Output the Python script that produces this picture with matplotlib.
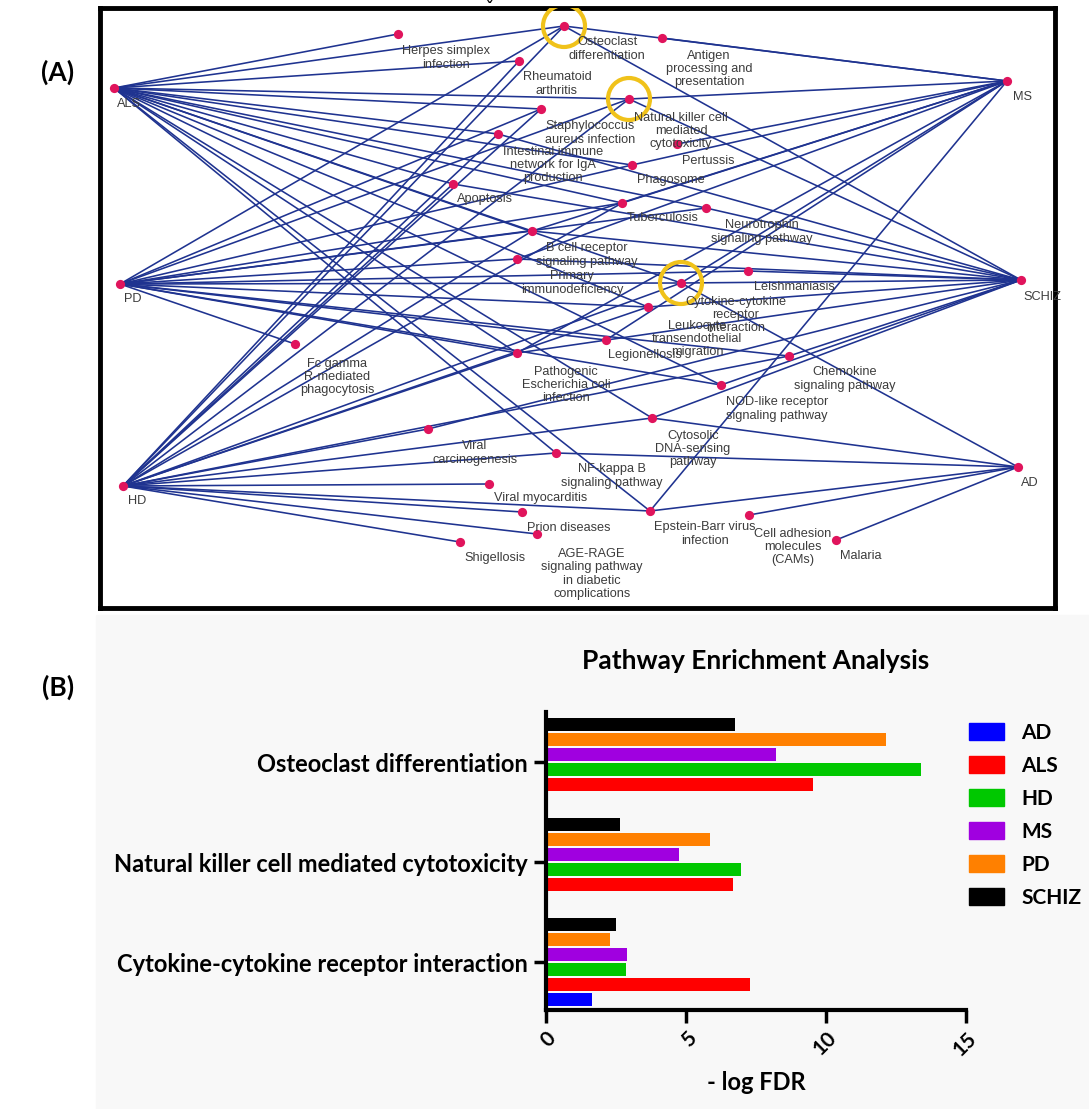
import numpy as np
import matplotlib.pyplot as plt
from matplotlib.patches import Circle, Patch, Rectangle

W, H = 1089, 1109

# ---------------- (B) pathway enrichment, -log FDR ----------------
pathways = ["Cytokine-cytokine receptor interaction",
            "Natural killer cell mediated cytotoxicity",
            "Osteoclast differentiation"]
diseases = ["AD", "ALS", "HD", "MS", "PD", "SCHIZ"]
bar_colors = ["#0000ff", "#ff0000", "#00c800", "#a000e0", "#ff8000", "#000000"]
ad_vals = [1.65, 0.0, 0.0]
als_vals = [7.29, 6.69, 9.52]
hd_vals = [2.84, 6.95, 13.39]
ms_vals = [2.90, 4.74, 8.20]
pd_vals = [2.28, 5.86, 12.16]
schiz_vals = [2.51, 2.66, 6.76]

# ---------------- (A) disease / KEGG pathway network ----------------
# layout of the network drawing (x right, y down)
disease_xy = {"ALS": (114, 88), "MS": (1007, 81), "PD": (120, 284),
              "SCHIZ": (1021, 280), "HD": (123, 486), "AD": (1018, 467)}
disease_label_xy = {"ALS": (129, 104), "MS": (1023, 97), "PD": (133, 299),
                    "SCHIZ": (1042, 297), "HD": (137, 501), "AD": (1030, 483)}

# key, label, node position, label position
pathway_nodes = [
    ("herpes", "Herpes simplex\ninfection", (398, 34), (446, 58)),
    ("osteo", "Osteoclast\ndifferentiation", (564, 26), (607, 49)),
    ("rheum", "Rheumatoid\narthritis", (519, 61), (557, 84)),
    ("antigen", "Antigen\nprocessing and\npresentation", (662, 38), (709, 69)),
    ("staph", "Staphylococcus\naureus infection", (541, 109), (590, 133)),
    ("nk", "Natural killer cell\nmediated\ncytotoxicity", (629, 99), (681, 131)),
    ("iga", "Intestinal immune\nnetwork for IgA\nproduction", (498, 134), (553, 165)),
    ("pertussis", "Pertussis", (677, 144), (708, 161)),
    ("phago", "Phagosome", (632, 165), (671, 180)),
    ("apopt", "Apoptosis", (453, 184), (485, 199)),
    ("tb", "Tuberculosis", (622, 203), (663, 218)),
    ("neuro", "Neurotrophin\nsignaling pathway", (706, 208), (762, 232)),
    ("bcell", "B cell receptor\nsignaling pathway", (532, 231), (587, 255)),
    ("primary", "Primary\nimmunodeficiency", (517, 259), (572, 283)),
    ("leish", "Leishmaniasis", (748, 271), (794, 287)),
    ("cytokine", "Cytokine-cytokine\nreceptor\ninteraction", (681, 283), (736, 315)),
    ("leuko", "Leukocyte\ntransendothelial\nmigration", (648, 307), (697, 339)),
    ("legion", "Legionellosis", (606, 340), (645, 355)),
    ("fcgr", "Fc gamma\nR-mediated\nphagocytosis", (295, 344), (337, 377)),
    ("ecoli", "Pathogenic\nEscherichia coli\ninfection", (517, 353), (566, 385)),
    ("chemo", "Chemokine\nsignaling pathway", (789, 356), (845, 379)),
    ("nod", "NOD-like receptor\nsignaling pathway", (721, 385), (777, 409)),
    ("cytosolic", "Cytosolic\nDNA-sensing\npathway", (652, 418), (693, 449)),
    ("vcarc", "Viral\ncarcinogenesis", (428, 429), (475, 453)),
    ("nfkb", "NF-kappa B\nsignaling pathway", (556, 453), (612, 476)),
    ("vmyo", "Viral myocarditis", (489, 484), (541, 498)),
    ("ebv", "Epstein-Barr virus\ninfection", (650, 511), (705, 534)),
    ("cams", "Cell adhesion\nmolecules\n(CAMs)", (749, 515), (793, 547)),
    ("prion", "Prion diseases", (522, 512), (569, 528)),
    ("malaria", "Malaria", (836, 540), (861, 556)),
    ("shig", "Shigellosis", (460, 542), (495, 558)),
    ("agerage", "AGE-RAGE\nsignaling pathway\nin diabetic\ncomplications", (537, 534), (592, 574)),
]

links = {
    "ALS": ["herpes", "osteo", "rheum", "nk", "staph", "iga", "phago", "neuro",
            "tb", "apopt", "bcell", "cytokine", "leuko", "nod", "ecoli",
            "cytosolic", "nfkb", "ebv"],
    "PD": ["osteo", "nk", "staph", "phago", "tb", "bcell", "primary", "neuro",
           "cytokine", "leish", "leuko", "legion", "ecoli", "nod", "fcgr", "chemo"],
    "HD": ["osteo", "nk", "rheum", "iga", "apopt", "bcell", "tb", "staph",
           "ecoli", "cytokine", "leuko", "vcarc", "cytosolic", "chemo", "nfkb",
           "vmyo", "prion", "agerage", "shig", "ebv"],
    "MS": ["osteo", "antigen", "nk", "pertussis", "phago", "tb", "bcell",
           "cytokine", "primary", "legion", "ecoli", "ebv"],
    "SCHIZ": ["osteo", "nk", "apopt", "iga", "neuro", "leish", "cytokine",
              "primary", "bcell", "leuko", "chemo", "nod", "ecoli", "vcarc",
              "cytosolic"],
    "AD": ["cytokine", "cytosolic", "nfkb", "ebv", "cams", "malaria"],
}
highlighted = ["osteo", "nk", "cytokine"]

fig = plt.figure(figsize=(W / 100, H / 100), dpi=100)

# faint grey backdrop under panel B
fig.patches.append(Rectangle((96 / W, 0), 1 - 96 / W, 1 - 615 / H,
                             transform=fig.transFigure, color="#f8f8f8", zorder=-5))

net = fig.add_axes([100 / W, 1 - 608 / H, 955 / W, 600 / H])
net.set_xlim(100, 1055)
net.set_ylim(608, 8)
net.set_xticks([])
net.set_yticks([])
for sp in net.spines.values():
    sp.set_linewidth(3.5)
    sp.set_color("black")

pos = dict(disease_xy)
for key, _, xy, _ in pathway_nodes:
    pos[key] = xy

for dis, targets in links.items():
    x0, y0 = pos[dis]
    for t in targets:
        x1, y1 = pos[t]
        net.plot([x0, x1], [y0, y1], color="#1f3390", lw=1.15, zorder=1)

xs = [p[0] for p in pos.values()]
ys = [p[1] for p in pos.values()]
net.scatter(xs, ys, s=44, color="#e0145c", zorder=3, linewidths=0)

for key in highlighted:
    net.add_patch(Circle(pos[key], 21, fill=False, ec="#f0c21a", lw=3, zorder=4))

txt = dict(family="Liberation Sans", fontsize=9.2, color="#3c3c3c",
           ha="center", va="center", linespacing=1.15, zorder=5)
for key, label, _, lxy in pathway_nodes:
    net.text(lxy[0], lxy[1], label, **txt)
for dis, lxy in disease_label_xy.items():
    net.text(lxy[0], lxy[1], dis, **txt)

fig.text(490 / W, 1 - 1 / H, "ˇ", fontsize=11, fontweight="bold", ha="center", va="top")

plt.rcParams["font.family"] = ["Lato", "DejaVu Sans"]
fig.text(58 / W, 1 - 72 / H, "(A)", fontsize=19, fontweight="bold", ha="center", va="center")
fig.text(58 / W, 1 - 687 / H, "(B)", fontsize=19, fontweight="bold", ha="center", va="center")

ax = fig.add_axes([546 / W, 1 - 1010 / H, 420 / W, 298 / H])
ax.patch.set_alpha(0)
series = [ad_vals, als_vals, hd_vals, ms_vals, pd_vals, schiz_vals]
y = np.arange(len(pathways))
step = 0.15
for i, (name, vals, c) in enumerate(zip(diseases, series, bar_colors)):
    ax.barh(y + (i - 2.5) * step, vals, height=0.135, color=c, label=name)

ax.set_xlim(0, 15)
ax.set_ylim(-0.48, 2.5)
ax.set_xticks([0, 5, 10, 15])
ax.set_yticks(y)
ax.set_yticklabels(pathways, fontsize=17, fontweight="bold")
for lab in ax.get_xticklabels():
    lab.set_fontweight("bold")
    lab.set_fontsize(15)
    lab.set_rotation(45)
    lab.set_ha("right")
    lab.set_va("top")
    lab.set_rotation_mode("anchor")
for s in ["top", "right"]:
    ax.spines[s].set_visible(False)
for s in ["left", "bottom"]:
    ax.spines[s].set_linewidth(3)
ax.tick_params(axis="both", length=9, width=2.5, pad=4)

ax.text(0.5, 1.171, "Pathway Enrichment Analysis", transform=ax.transAxes,
        fontsize=19, fontweight="bold", ha="center", va="center")
ax.set_xlabel("- log FDR", fontsize=17, fontweight="bold")
ax.xaxis.set_label_coords(0.5, -0.242)
ax.xaxis.label.set_va("center")

handles = [Patch(color=c) for c in bar_colors]
ax.legend(handles, diseases, loc="upper left", bbox_to_anchor=(969 / W, 1 - 723 / H),
          bbox_transform=fig.transFigure, frameon=False, prop=dict(weight="bold", size=15),
          handlelength=1.7, handleheight=0.9, handletextpad=0.8, labelspacing=0.62,
          borderpad=0, borderaxespad=0)

fig.savefig("out.png", dpi=100)
